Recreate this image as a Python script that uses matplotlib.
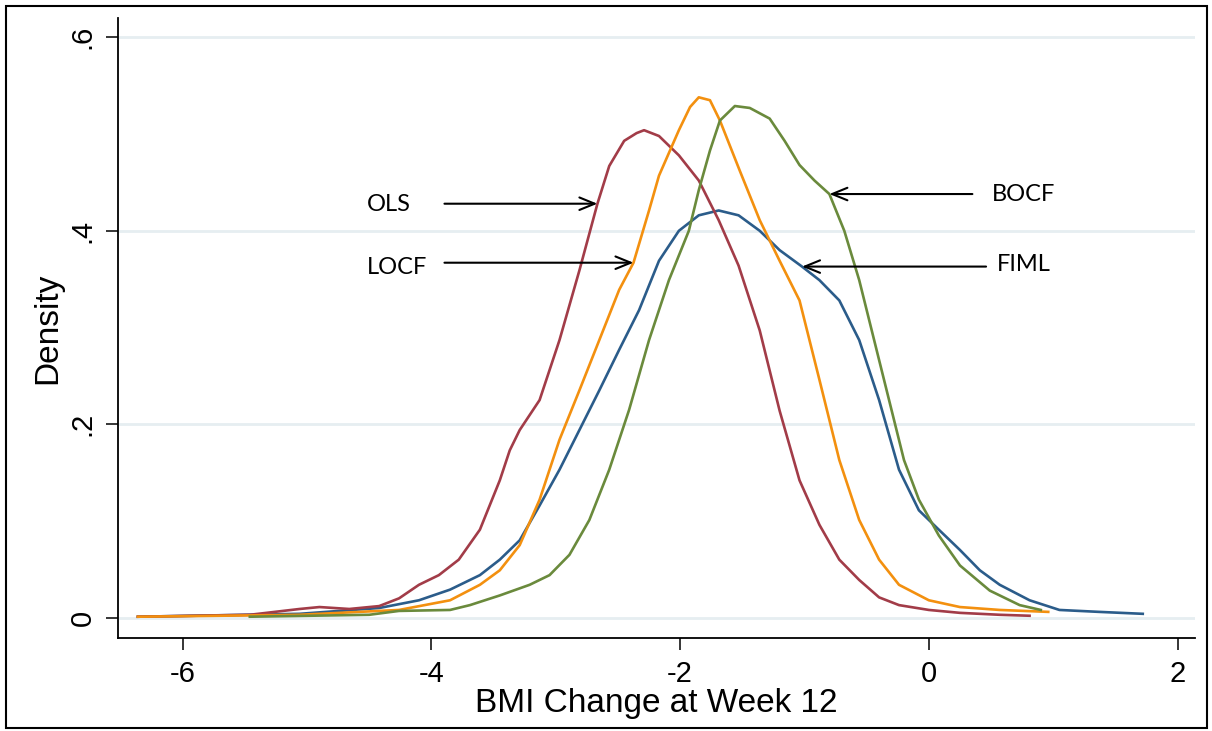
import matplotlib.pyplot as plt
from matplotlib.patches import Rectangle

# kernel density estimates of BMI change at week 12, one per method
ols_x = [-6.36, -5.46, -5.06, -4.90, -4.66, -4.42, -4.26, -4.10, -3.94, -3.78, -3.61, -3.45,
         -3.37, -3.29, -3.13, -2.97, -2.81, -2.665, -2.57, -2.45, -2.35, -2.29, -2.17, -2.01,
         -1.85, -1.69, -1.53, -1.36, -1.20, -1.04, -0.88, -0.72, -0.56, -0.40, -0.24, 0.00,
         0.25, 0.57, 0.81]
ols_y = [0.001, 0.003, 0.009, 0.011, 0.009, 0.012, 0.020, 0.034, 0.044, 0.060, 0.091, 0.142,
         0.173, 0.194, 0.225, 0.287, 0.359, 0.428, 0.467, 0.493, 0.501, 0.504, 0.498, 0.478,
         0.452, 0.411, 0.364, 0.297, 0.214, 0.142, 0.096, 0.060, 0.039, 0.021, 0.013, 0.008,
         0.005, 0.003, 0.002]

locf_x = [-6.36, -5.06, -4.26, -3.85, -3.61, -3.45, -3.29, -3.13, -2.97, -2.81, -2.65, -2.49,
          -2.375, -2.25, -2.17, -2.01, -1.92, -1.85, -1.76, -1.68, -1.52, -1.36, -1.20, -1.04,
          -0.88, -0.72, -0.56, -0.40, -0.24, 0.00, 0.25, 0.57, 0.96]
locf_y = [0.001, 0.003, 0.008, 0.018, 0.034, 0.049, 0.075, 0.122, 0.184, 0.235, 0.287, 0.339,
          0.367, 0.421, 0.457, 0.504, 0.528, 0.538, 0.535, 0.514, 0.462, 0.411, 0.369, 0.328,
          0.246, 0.163, 0.101, 0.060, 0.034, 0.018, 0.011, 0.008, 0.006]

bocf_x = [-5.46, -4.50, -4.26, -3.85, -3.69, -3.45, -3.21, -3.05, -2.89, -2.73, -2.57, -2.41,
          -2.25, -2.09, -1.93, -1.85, -1.76, -1.68, -1.56, -1.44, -1.28, -1.16, -1.04, -0.92,
          -0.80, -0.68, -0.56, -0.44, -0.32, -0.20, -0.08, 0.08, 0.25, 0.49, 0.73, 0.90]
bocf_y = [0.001, 0.003, 0.007, 0.008, 0.013, 0.023, 0.034, 0.044, 0.065, 0.101, 0.153, 0.215,
          0.287, 0.349, 0.400, 0.442, 0.483, 0.514, 0.529, 0.527, 0.516, 0.493, 0.468, 0.452,
          0.438, 0.400, 0.349, 0.287, 0.225, 0.163, 0.122, 0.085, 0.054, 0.028, 0.013, 0.008]

fiml_x = [-6.36, -5.06, -4.42, -4.10, -3.85, -3.61, -3.45, -3.29, -3.13, -2.97, -2.81, -2.65,
          -2.49, -2.33, -2.17, -2.01, -1.85, -1.69, -1.53, -1.36, -1.20, -1.02, -0.88, -0.72,
          -0.56, -0.40, -0.24, -0.08, 0.08, 0.25, 0.41, 0.57, 0.81, 1.05, 1.37, 1.72]
fiml_y = [0.001, 0.004, 0.010, 0.018, 0.029, 0.044, 0.060, 0.080, 0.116, 0.153, 0.194, 0.235,
          0.277, 0.318, 0.369, 0.400, 0.416, 0.421, 0.416, 0.400, 0.380, 0.363, 0.349, 0.328,
          0.287, 0.225, 0.153, 0.111, 0.091, 0.070, 0.049, 0.034, 0.018, 0.008, 0.006, 0.004]

x_ticks = [-6, -4, -2, 0, 2]
y_ticks = [0, 0.2, 0.4, 0.6]
y_tick_labels = ["0", ".2", ".4", ".6"]

# label, text position, arrow tail, arrow tip
labels = ["OLS", "LOCF", "BOCF", "FIML"]
label_x = [-4.34, -4.28, 0.76, 0.76]
label_y = [0.427, 0.362, 0.4375, 0.365]
tail_x = [-3.895, -3.895, 0.35, 0.46]
tip_x = [-2.665, -2.375, -0.80, -1.02]
tip_y = [0.428, 0.367, 0.438, 0.363]

COLORS = {"FIML": "#2b5c8a", "OLS": "#a23c48", "BOCF": "#6a8a3c", "LOCF": "#f3900f"}

plt.rcParams["font.family"] = ["Liberation Sans", "DejaVu Sans"]

fig = plt.figure(figsize=(12.12, 7.31), dpi=100)
ax = fig.add_axes([118 / 1212, 93 / 731, 1077 / 1212, 620 / 731])

for yt in y_ticks:
    ax.axhline(yt, color="#e6eef1", lw=2, zorder=0)

ax.plot(fiml_x, fiml_y, color=COLORS["FIML"], lw=1.9)
ax.plot(ols_x, ols_y, color=COLORS["OLS"], lw=1.9)
ax.plot(locf_x, locf_y, color=COLORS["LOCF"], lw=1.9)
ax.plot(bocf_x, bocf_y, color=COLORS["BOCF"], lw=1.9)

ax.set_xlim(-6.52, 2.14)
ax.set_ylim(-0.021, 0.62)
ax.set_xticks(x_ticks)
ax.set_xticklabels([f"{t:d}" for t in x_ticks])
ax.set_yticks(y_ticks)
ax.set_yticklabels(y_tick_labels, rotation=90, va="center")
ax.tick_params(length=8.5, width=1.1, labelsize=21, pad=7, color="black")

for side in ("top", "right"):
    ax.spines[side].set_visible(False)
for side in ("left", "bottom"):
    ax.spines[side].set_linewidth(1.3)

ax.set_xlabel("BMI Change at Week 12", fontsize=24, labelpad=0)
ax.set_ylabel("Density", fontsize=24, labelpad=4)

for lab, lx, ly, tx, px, py in zip(labels, label_x, label_y, tail_x, tip_x, tip_y):
    ax.annotate("", xy=(px, py), xytext=(tx, py),
                arrowprops=dict(arrowstyle="->,head_length=1.1,head_width=0.45",
                                color="black", lw=1.5, shrinkA=0, shrinkB=0))
    ax.text(lx, ly, lab, fontsize=17, ha="center", va="center",
            family=["Lato", "DejaVu Sans"])

# thin frame around the whole graphic
fig.patches.append(Rectangle((6 / 1212, 3 / 731), 1201 / 1212, 722 / 731,
                             transform=fig.transFigure, fill=False,
                             edgecolor="black", lw=1.5))

fig.savefig("out.png", dpi=100)
